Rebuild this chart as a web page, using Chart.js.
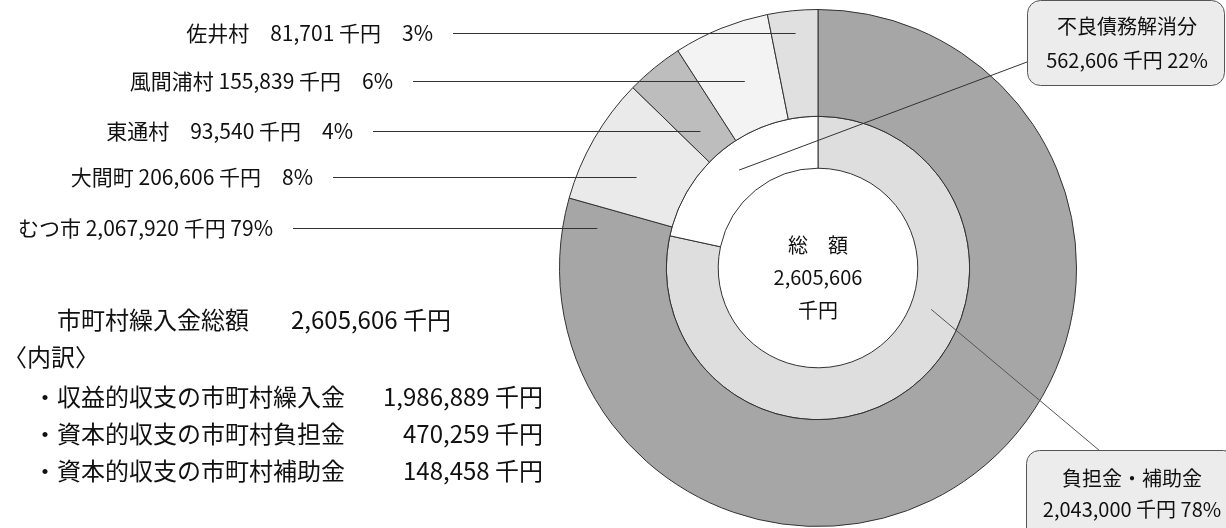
<!DOCTYPE html>
<html lang="ja">
<head>
<meta charset="utf-8">
<title>市町村繰入金</title>
<script src="https://cdn.jsdelivr.net/npm/chart.js@4/dist/chart.umd.min.js"></script>
<style>
  html, body { margin: 0; padding: 0; background: #fff; }
  #chart { display: block; }
</style>
</head>
<body>
<canvas id="chart" width="1226" height="528"></canvas>
<script>
// --- data (千円) ---
const towns = ['むつ市', '大間町', '東通村', '風間浦村', '佐井村'];
const townValues = [2067920, 206606, 93540, 155839, 81701];
const parts = ['負担金・補助金', '不良債務解消分'];
const partValues = [2043000, 562606];
const total = 2605606;

const breakdownLabels = ['収益的収支の市町村繰入金', '資本的収支の市町村負担金', '資本的収支の市町村補助金'];
const breakdownValues = [1986889, 470259, 148458];

// --- styles ---
const FONT = '"Noto Sans CJK JP", "Noto Sans CJK SC", sans-serif';
const INK = '#111';
const LINE = '#333';
const townColors = ['#a5a6a5', '#e9eae9', '#bcbdbc', '#f3f3f3', '#dfe0df'];
const partColors = ['#dddedd', '#ffffff'];

// label rows for the outer ring (same order as towns)
const labelDy = [-40, -91, -137, -187, -235];      // offset from centre
const leaderDepth = [0.68, 0.48, 0.27, 0.46, 0.79]; // where the line stops inside the ring

const fmt = n => n.toLocaleString('en-US');
const pct = n => Math.round(n / total * 100);

function townLabel(i) {
    const v = fmt(townValues[i]);
    const p = pct(townValues[i]);
    const sep1 = v.length < 7 ? '\u3000' : ' ';
    const sep2 = p < 10 ? '\u3000' : ' ';
    return towns[i] + sep1 + v + ' 千円' + sep2 + p + '%';
}

function roundBox(ctx, x, y, w, h, r) {
    ctx.beginPath();
    ctx.roundRect(x, y, w, h, r);
    ctx.fillStyle = '#ececec';
    ctx.fill();
    ctx.lineWidth = 1;
    ctx.strokeStyle = '#555';
    ctx.stroke();
}

const annotations = {
    id: 'annotations',
    afterDraw(chart) {
        const ctx = chart.ctx;
        const outer = chart.getDatasetMeta(0).data;
        const inner = chart.getDatasetMeta(1).data;
        const cx = outer[0].x, cy = outer[0].y;

        ctx.save();
        ctx.fillStyle = INK;
        ctx.strokeStyle = LINE;
        ctx.lineWidth = 1;
        ctx.textBaseline = 'middle';

        // outer ring labels + leader lines
        ctx.font = '21px ' + FONT;
        ctx.textAlign = 'right';
        towns.forEach((t, i) => {
            const a = outer[i];
            const y = cy + labelDy[i];
            const r = a.innerRadius + leaderDepth[i] * (a.outerRadius - a.innerRadius);
            const xEnd = cx - Math.sqrt(r * r - labelDy[i] * labelDy[i]);
            const xStart = 293 + 40 * i;
            ctx.beginPath();
            ctx.moveTo(xStart, y + 0.5);
            ctx.lineTo(xEnd, y + 0.5);
            ctx.stroke();
            ctx.fillText(townLabel(i), xStart - 20, y);
        });

        // centre text
        ctx.textAlign = 'center';
        ctx.font = '20px ' + FONT;
        ctx.fillText('総\u3000額', cx, cy - 23);
        ctx.fillText(fmt(total), cx, cy + 9);
        ctx.fillText('千円', cx, cy + 42);

        // 不良債務解消分 box
        const a1 = inner[1].getCenterPoint();
        ctx.beginPath();
        ctx.moveTo(a1.x, a1.y);
        ctx.lineTo(1027, 62);
        ctx.stroke();
        roundBox(ctx, 1027.5, 0.5, 197, 85, 13);
        ctx.fillStyle = INK;
        ctx.font = '20px ' + FONT;
        ctx.fillText(parts[1], 1127, 26);
        ctx.fillText(fmt(partValues[1]) + ' 千円 ' + pct(partValues[1]) + '%', 1127, 60);

        // 負担金・補助金 box
        const b = inner[0];
        const ang = b.startAngle + 0.39 * (b.endAngle - b.startAngle);
        const rr = b.innerRadius + 0.4 * (b.outerRadius - b.innerRadius);
        ctx.beginPath();
        ctx.moveTo(cx + rr * Math.cos(ang), cy + rr * Math.sin(ang));
        ctx.lineTo(1100, 451);
        ctx.stroke();
        roundBox(ctx, 1026.5, 450.5, 210, 100, 13);
        ctx.fillStyle = INK;
        ctx.fillText(parts[0], 1132, 478);
        ctx.fillText(fmt(partValues[0]) + ' 千円 ' + pct(partValues[0]) + '%', 1132, 509);

        // summary block on the left
        ctx.textAlign = 'left';
        ctx.font = '24px ' + FONT;
        ctx.fillText('市町村繰入金総額', 57, 320);
        ctx.fillText(fmt(total) + ' 千円', 291, 320);
        ctx.fillText('〈内訳〉', 3, 357);
        breakdownLabels.forEach((lab, i) => {
            const y = 397 + 37 * i;
            ctx.textAlign = 'left';
            ctx.fillText('・' + lab, 33, y);
            ctx.textAlign = 'right';
            ctx.fillText(fmt(breakdownValues[i]) + ' 千円', 543, y);
        });
        ctx.restore();
    }
};

new Chart(document.getElementById('chart'), {
    type: 'doughnut',
    data: {
        labels: towns,
        datasets: [
            {
                data: townValues,
                backgroundColor: townColors,
                borderColor: LINE,
                borderWidth: 1,
                weight: 107
            },
            {
                data: partValues,
                labels: parts,
                backgroundColor: partColors,
                borderColor: LINE,
                borderWidth: 1,
                weight: 52
            }
        ]
    },
    options: {
        responsive: false,
        animation: false,
        devicePixelRatio: 1,
        events: [],
        cutout: '38.6%',
        hoverOffset: 0,
        layout: { padding: { left: 559, right: 149, top: 9, bottom: 1 } },
        plugins: {
            legend: { display: false },
            tooltip: { enabled: false }
        }
    },
    plugins: [annotations]
});
</script>
</body>
</html>
